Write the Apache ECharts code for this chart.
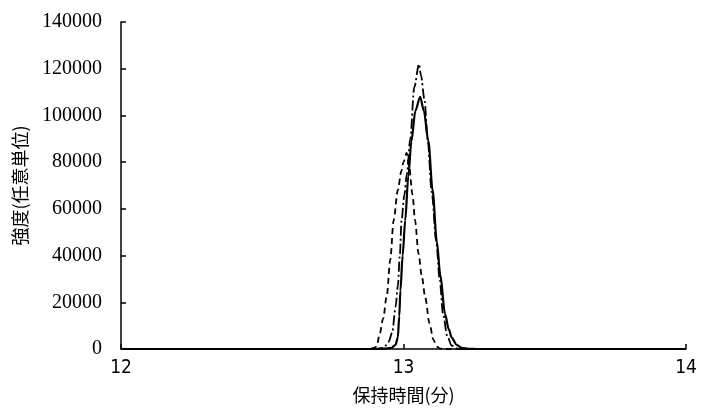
<!DOCTYPE html>
<html>
<head>
<meta charset="utf-8">
<script src="https://cdn.jsdelivr.net/npm/echarts@6/dist/echarts.min.js"></script>
<style>html,body{margin:0;padding:0;background:#fff}#c{width:702px;height:414px}</style>
</head>
<body>
<div id="c"></div>
<script>
// x: retention time (min), y: intensity
const xTicks = [12, 13, 14];
const yTicks = [0, 20000, 40000, 60000, 80000, 100000, 120000, 140000];

const solidX = [12, 12.90, 12.93, 12.958, 12.972, 12.980, 12.985, 12.989, 12.997, 13.006, 13.017, 13.028, 13.042, 13.059, 13.072, 13.088, 13.103, 13.118, 13.130, 13.147, 13.160, 13.171, 13.188, 13.206, 13.23, 13.26, 14];
const solidY = [0, 0, 150, 500, 1800, 5000, 14000, 25000, 40000, 55000, 74000, 89000, 102000, 108000, 102000, 89000, 68000, 46000, 32000, 15000, 8500, 4800, 1800, 500, 100, 0, 0];

const dashedX = [12, 12.87, 12.89, 12.900, 12.906, 12.915, 12.928, 12.941, 12.953, 12.965, 12.980, 12.992, 13.000, 13.011, 13.020, 13.032, 13.041, 13.053, 13.065, 13.077, 13.092, 13.106, 13.118, 13.13, 13.15, 14];
const dashedY = [0, 0, 300, 600, 1700, 6000, 13000, 23000, 38000, 55000, 68000, 76000, 80000, 84000, 78000, 66000, 55000, 41000, 31000, 22000, 11000, 3900, 1000, 200, 0, 0];

const dashDotX = [12, 12.90, 12.93, 12.947, 12.960, 12.972, 12.980, 12.987, 12.993, 13.003, 13.012, 13.024, 13.038, 13.055, 13.062, 13.074, 13.086, 13.100, 13.116, 13.128, 13.140, 13.155, 13.170, 13.19, 13.21, 14];
const dashDotY = [0, 0, 500, 3000, 7000, 18000, 27000, 40000, 55000, 66000, 75000, 90000, 112000, 122000, 117000, 107000, 89000, 67000, 46000, 30000, 15000, 5500, 1500, 200, 0, 0];

const zip = (xs, ys) => xs.map((x, i) => [x, ys[i]]);

const chart = echarts.init(document.getElementById('c'));
const axisLine = {show: true, lineStyle: {color: '#000', width: 1.5}};
const axisTick = {show: true, inside: true, length: 5, lineStyle: {color: '#000', width: 1.5}};

function line(data, type, w) {
  return {
    type: 'line', data: data, showSymbol: false, symbol: 'none',
    smooth: 0.3, smoothMonotone: 'x',
    lineStyle: {color: '#000', width: w, type: type}
  };
}

chart.setOption({
  animation: false,
  backgroundColor: '#fff',
  grid: {left: 121, right: 16, top: 22, bottom: 65, containLabel: false, outerBoundsMode: 'none'},
  xAxis: {
    type: 'value', min: 12, max: 14, interval: 1,
    name: '保持時間(分)', nameLocation: 'middle', nameGap: 37,
    nameTextStyle: {color: '#000', fontSize: 18, fontFamily: 'Noto Sans CJK JP'},
    axisLine: axisLine, axisTick: axisTick, splitLine: {show: false},
    axisLabel: {color: '#000', fontSize: 19, margin: 10, fontFamily: 'DejaVu Sans Condensed, Liberation Sans Narrow, sans-serif',
      formatter: v => xTicks.includes(v) ? String(v) : ''}
  },
  yAxis: {
    type: 'value', min: 0, max: 140000, interval: 20000,
    name: '強度(任意単位)', nameLocation: 'middle', nameGap: 92, nameRotate: 90,
    nameTextStyle: {color: '#000', fontSize: 18, fontFamily: 'Noto Sans CJK JP'},
    axisLine: axisLine, axisTick: axisTick, splitLine: {show: false},
    axisLabel: {color: '#000', fontSize: 20, margin: 19, fontFamily: 'Liberation Serif, serif',
      formatter: v => yTicks.includes(v) ? String(v) : ''}
  },
  series: [
    line(zip(dashedX, dashedY), [6, 4], 1.8),
    line(zip(dashDotX, dashDotY), [10, 3, 2, 3], 1.8),
    line(zip(solidX, solidY), 'solid', 2.2)
  ]
});
</script>
</body>
</html>
